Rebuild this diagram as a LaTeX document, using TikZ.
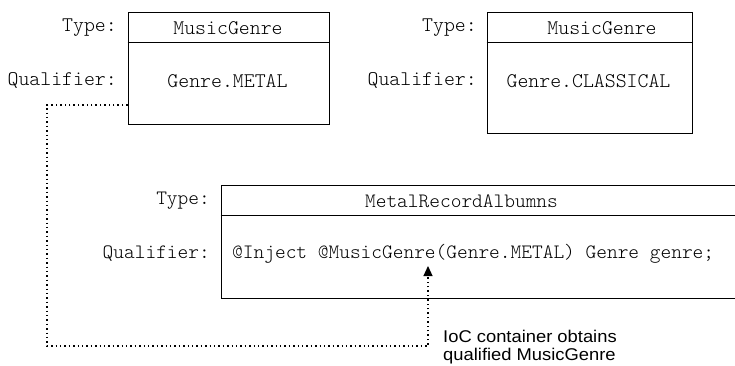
\documentclass[tikz,border=0pt]{standalone}
\usepackage{fontspec}
\setmonofont{Latin Modern Mono Light}
\setsansfont{Liberation Sans}
\usetikzlibrary{arrows.meta}
\begin{document}
\begin{tikzpicture}[x=1pt,y=-1pt,
  box/.style={draw, line width=1pt, inner sep=0pt, rectangle},
  mono/.style={font=\ttfamily\fontsize{20.8}{22}\selectfont, inner sep=0pt},
  monob/.style={font=\ttfamily\fontsize{20.4}{22}\selectfont, inner sep=0pt},
  lbl/.style={mono, anchor=east},
  lblb/.style={monob, anchor=east},
  conn/.style={line width=1.2pt, dash pattern=on 1.4pt off 3pt, -{Triangle[width=9pt,length=10pt]}},
  note/.style={font=\sffamily\fontsize{17}{18}\selectfont, xscale=1.08, align=left, inner sep=0pt, anchor=base west}]
\useasboundingbox (0,0) rectangle (735,365);
% box 1
\node[box, minimum width=201pt, minimum height=112pt] (b1) at (228.5,68) {};
\draw[line width=1pt] (b1.west |- 0,42) -- (b1.east |- 0,42);
\node[mono] (b1t) at (228,28) {MusicGenre};
\node[mono] (b1q) at (227.5,81) {Genre.METAL};
\node[lbl] (l1t) at (117,28) {Type:};
\node[lbl] (l1q) at (117,81) {Qualifier:};
% box 2
\node[box, minimum width=205pt, minimum height=121pt] (b2) at (589.5,72.5) {};
\draw[line width=1pt] (b2.west |- 0,42) -- (b2.east |- 0,42);
\node[mono] (b2t) at (602,28) {MusicGenre};
\node[mono] (b2q) at (588.5,81) {Genre.CLASSICAL};
\node[lbl] (l2t) at (477,28) {Type:};
\node[lbl] (l2q) at (477,81) {Qualifier:};
% box 3
\node[box, minimum width=530pt, minimum height=113pt] (b3) at (486,241.5) {};
\draw[line width=1pt] (b3.west |- 0,215) -- (b3.east |- 0,215);
\node[monob] (b3t) at (461.5,201) {MetalRecordAlbumns};
\node[monob, anchor=west] (b3q) at (232,254) {@Inject @MusicGenre(Genre.METAL) Genre genre;};
\node[lblb] (l3t) at (210,201) {Type:};
\node[lblb] (l3q) at (210,254) {Qualifier:};
% connector
\coordinate (tip) at (428,266);
\draw[conn] (b1.west |- 0,105) -- (47,105) -- (47,346) -- (428,346) -- (tip);
\node[note] (nt) at (443,360) {IoC container obtains\\qualified MusicGenre};
\end{tikzpicture}
\end{document}
